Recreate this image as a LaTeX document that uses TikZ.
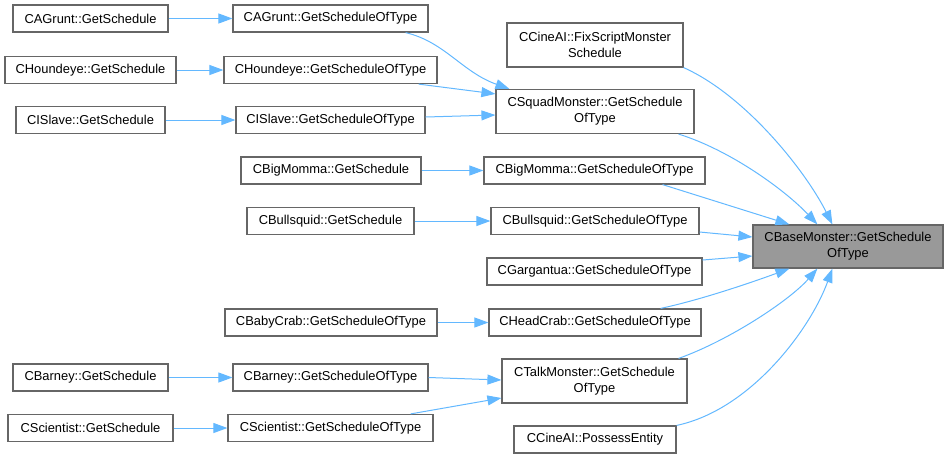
\documentclass[tikz,border=0pt]{standalone}
\usepackage{fontspec}
\setmainfont{Liberation Sans}
\usetikzlibrary{arrows.meta}
\definecolor{edgeblue}{HTML}{63B8FF}
\definecolor{framegray}{HTML}{666666}
\definecolor{basegray}{HTML}{999999}

\begin{document}
\begin{tikzpicture}[x=1pt,y=-1pt,
box/.style={draw=framegray,line width=1.2pt,fill=white,align=center,inner xsep=4pt,inner ysep=0pt,minimum height=27pt,font=\fontsize{12.9}{16}\selectfont},
tall/.style={minimum height=44pt},
arr/.style={-{Triangle[length=14pt,width=10pt]},edgeblue,line width=1pt}]
\useasboundingbox (0,0) rectangle (949,459);
\node[box,minimum width=155pt] (agr1) at (90.5,18.5) {CAGrunt::GetSchedule};
\node[box,minimum width=171pt] (hou1) at (90.5,70) {CHoundeye::GetSchedule};
\node[box,minimum width=149pt] (isl1) at (90.5,120) {CISlave::GetSchedule};
\node[box,minimum width=155pt] (bar1) at (90.5,377.5) {CBarney::GetSchedule};
\node[box,minimum width=165pt] (sci1) at (90.5,428) {CScientist::GetSchedule};
\node[box,minimum width=195pt] (agr2) at (330.5,18.5) {CAGrunt::GetScheduleOfType};
\node[box,minimum width=213pt] (hou2) at (330.5,70) {CHoundeye::GetScheduleOfType};
\node[box,minimum width=189pt] (isl2) at (330.5,120) {CISlave::GetScheduleOfType};
\node[box,minimum width=180pt] (bm1) at (331,170.5) {CBigMomma::GetSchedule};
\node[box,minimum width=167pt] (bs1) at (330.5,221) {CBullsquid::GetSchedule};
\node[box,minimum width=212pt] (bc) at (331,322.5) {CBabyCrab::GetScheduleOfType};
\node[box,minimum width=195pt] (bar2) at (330.5,377.5) {CBarney::GetScheduleOfType};
\node[box,minimum width=205pt] (sci2) at (330.5,428) {CScientist::GetScheduleOfType};
\node[box,tall,minimum width=176pt] (fix) at (595,45) {CCineAI::FixScriptMonster\\Schedule};
\node[box,tall,minimum width=198pt] (squad) at (595,111.5) {CSquadMonster::GetSchedule\\OfType};
\node[box,minimum width=221pt] (bm2) at (594.5,170.5) {CBigMomma::GetScheduleOfType};
\node[box,minimum width=208pt] (bs2) at (595,221) {CBullsquid::GetScheduleOfType};
\node[box,minimum width=215pt] (garg) at (594.5,271.5) {CGargantua::GetScheduleOfType};
\node[box,minimum width=212pt] (hc) at (595,322.5) {CHeadCrab::GetScheduleOfType};
\node[box,tall,minimum width=185pt] (talk) at (594.5,381) {CTalkMonster::GetSchedule\\OfType};
\node[box,minimum width=162pt] (poss) at (595,439.5) {CCineAI::PossessEntity};
\node[box,tall,fill=basegray,minimum width=190pt,minimum height=43pt] (base) at (848,246.5) {CBaseMonster::GetSchedule\\OfType};
\draw[arr] (agr1) -- (agr2);
\draw[arr] (hou1) -- (hou2);
\draw[arr] (isl1) -- (isl2);
\draw[arr] (bm1) -- (bm2);
\draw[arr] (bs1) -- (bs2);
\draw[arr] (bc) -- (hc);
\draw[arr] (bar1) -- (bar2);
\draw[arr] (sci1) -- (sci2);
\draw[arr] ([xshift=-23pt]agr2.south east) .. controls (445,42) and (462,72) .. ([xshift=14pt]squad.north west);
\draw[arr] ([xshift=-19pt]hou2.south east) -- ([yshift=-5pt]squad.north west);
\draw[arr] ([yshift=3pt]isl2.east) -- ([yshift=-3.5pt]squad.west);
\draw[arr] (bar2.east) -- ([yshift=1pt]talk.west);
\draw[arr] ([xshift=-23pt]sci2.north east) -- ([yshift=-17pt]talk.west);
\draw[arr] (fix.south east) .. controls (745,95) and (805,170) .. ([xshift=80pt]base.north west);
\draw[arr] ([xshift=-16pt]squad.south east) .. controls (730,150) and (785,190) .. ([xshift=65pt]base.north west);
\draw[arr] ([xshift=-43pt]bm2.south east) -- ([xshift=37pt]base.north west);
\draw[arr] ([yshift=-11pt]bs2.east) -- ([yshift=9.5pt]base.west);
\draw[arr] ([yshift=11.5pt]garg.east) -- ([yshift=-9.5pt]base.west);
\draw[arr] ([xshift=-41pt]hc.north east) .. controls (700,300) and (750,283) .. ([xshift=37pt]base.south west);
\draw[arr] ([xshift=-9pt]talk.north east) .. controls (730,340) and (790,300) .. ([xshift=65pt]base.south west);
\draw[arr] (poss.north east) .. controls (750,410) and (810,330) .. ([xshift=80pt]base.south west);
\end{tikzpicture}
\end{document}
